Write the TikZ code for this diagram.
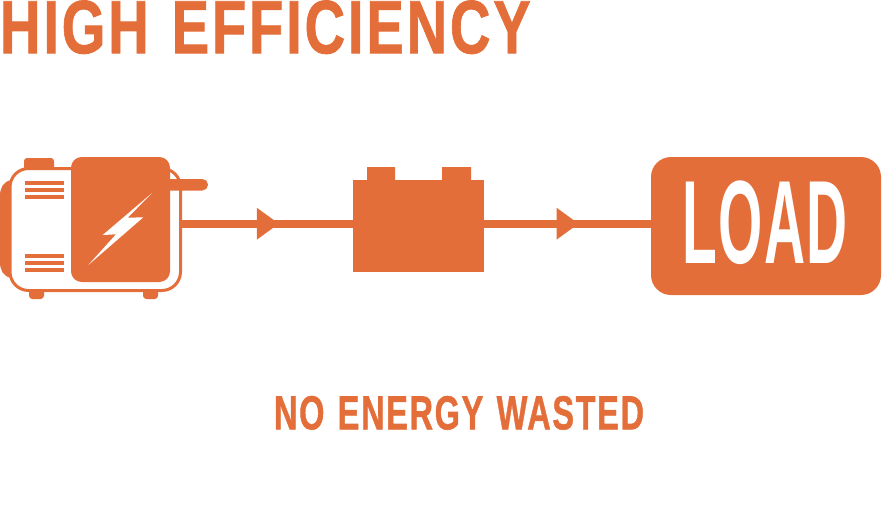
\documentclass[tikz,border=0pt]{standalone}
\usepackage{fontspec}
\usepackage{graphicx}
\setmainfont{Liberation Sans}
\newfontface\spacedbold[LetterSpace=5,WordSpace=1.25,FakeBold=1.2]{Liberation Sans Bold}
\newfontface\loadbold[LetterSpace=2.5]{Liberation Sans Bold}
\usetikzlibrary{decorations.markings}
\definecolor{brand}{HTML}{E46E39}
\tikzset{
  solidpart/.style={fill=brand,draw=none,outer sep=0pt},
  label text/.style={inner sep=0pt,outer sep=0pt,anchor=north west,text=brand,font=\spacedbold},
  wire/.style={draw=brand,line width=6pt},
  flow/.style={wire,postaction={decorate},decoration={markings,mark=at position #1 with {\fill[brand] (-8.25pt,12pt) -- (8.25pt,0pt) -- (-8.25pt,-12pt) -- cycle;}}},
  vent/.style={fill=brand,draw=none},
}
\begin{document}
\begin{tikzpicture}[x=0.75pt,y=-0.75pt]
\useasboundingbox (0,0) rectangle (886,518);
% title
\node[label text] (title) at (0,0.5) {\resizebox{398pt}{39.5pt}{HIGH EFFICIENCY}};
% generator
\path[solidpart,rounded corners=2.25pt] (24,172) -- (24,158) -- (54,158) -- (54,172) -- cycle;
\path[solidpart] (11,180) .. controls (3,182) and (0,188) .. (0,196) -- (0,262) .. controls (0,270) and (3,276) .. (11,278) -- cycle;
\path[solidpart,rounded corners=2.5pt] (29,285) -- (29,299) -- (44,299) -- (44,285) -- cycle;
\path[solidpart,rounded corners=2.5pt] (143,285) -- (143,299) -- (158,299) -- (158,285) -- cycle;
\draw[brand,line width=2.25pt,fill=white,rounded corners=14pt] (10,168.5) rectangle (180.5,290.5);
\foreach \yy in {183,190,197,256,263,270} \path[vent] (25,\yy-1.6) rectangle (64,\yy+1.6);
\path[solidpart,rounded corners=4.2pt] (150,179) -- (208,179) -- (208,190.5) -- (150,190.5) -- cycle;
\node[solidpart,rounded corners=8pt,minimum width=74.25pt,minimum height=93.75pt,inner sep=0pt,anchor=north west] (panel) at (71,157) {};
\path[fill=white] (151.7,193.3) -- (127.7,217.7) -- (143.3,217.3) -- (88.3,265) -- (116,234.3) -- (102.7,235) -- cycle;
\coordinate (genout) at (180.5,223.7);
% battery
\path[solidpart] (367,167) rectangle (395,182) (442,167) rectangle (471,182);
\node[solidpart,minimum width=98.25pt,minimum height=69pt,inner sep=0pt,anchor=north west] (battery) at (353,180) {};
% load
\node[solidpart,rounded corners=15pt,minimum width=172.5pt,minimum height=103.5pt,inner sep=0pt,anchor=north west] (load) at (651,157) {};
\node[inner sep=0pt,text=white,font=\loadbold,anchor=north west] (loadtext) at (682,181) {\resizebox{124pt}{62pt}{LOAD}};
% connectors
\draw[flow=0.506] (genout) -- (battery.west |- genout);
\draw[flow=0.50] (battery.east |- genout) -- (load.west |- genout);
% caption
\node[label text] (caption) at (274,396) {\resizebox{277.5pt}{25pt}{NO ENERGY WASTED}};
\end{tikzpicture}
\end{document}
